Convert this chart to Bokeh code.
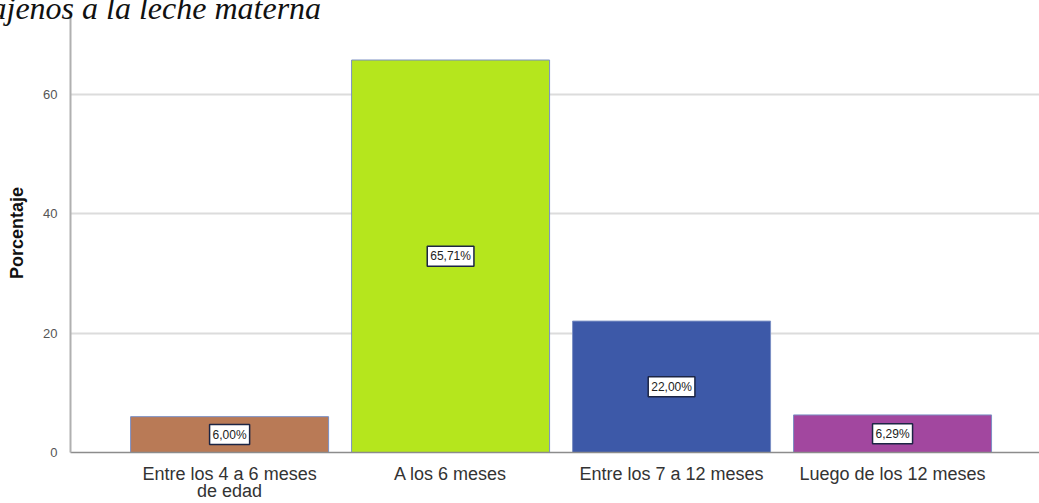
from bokeh.plotting import figure
from bokeh.models import ColumnDataSource, Label, FixedTicker, Range1d, Title
from bokeh.embed import file_html
from bokeh.resources import INLINE

categories = ["Entre los 4 a 6 meses\nde edad", "A los 6 meses",
              "Entre los 7 a 12 meses", "Luego de los 12 meses"]
values = [6.00, 65.71, 22.00, 6.29]
labels = ["6,00%", "65,71%", "22,00%", "6,29%"]
colors = ["#b97a56", "#b5e61d", "#3d59a8", "#a2479f"]
y_ticks = [0, 20, 40, 60]
title_text = "ajenos a la leche materna"

xs = list(range(len(categories)))
src = ColumnDataSource(dict(x=xs, top=values, color=colors))

p = figure(width=1039, height=503, output_backend="svg", toolbar_location=None,
           x_range=Range1d(-0.72, 3.665), y_range=Range1d(0, 73.5),
           min_border_left=70, min_border_right=0, min_border_top=13,
           min_border_bottom=50)
p.outline_line_color = None

p.vbar(x="x", top="top", width=0.896, bottom=0, fill_color="color",
       line_color="#7b8fc4", line_width=1, source=src)

for xi, v, lab in zip(xs, values, labels):
    p.add_layout(Label(x=xi, y=v / 2, text=lab, text_align="center",
                       text_baseline="middle", text_font_size="12px",
                       text_font="Liberation Sans", text_color="#222222",
                       background_fill_color="white", border_line_color="#1c2544",
                       border_line_width=1.5, padding=3))

# axes
p.xaxis.ticker = FixedTicker(ticks=xs)
p.xaxis.major_label_overrides = {i: c for i, c in enumerate(categories)}
p.xaxis.major_label_text_font = "Liberation Sans"
p.xaxis.major_label_text_font_size = "18px"
p.xaxis.major_label_text_line_height = 0.85
p.xaxis.major_label_text_color = "#333333"
p.xaxis.major_tick_line_color = None
p.xaxis.minor_tick_line_color = None
p.xaxis.axis_line_color = "#8c8c8c"
p.xaxis.axis_line_width = 1.5
p.xaxis.major_label_standoff = 5

p.yaxis.ticker = FixedTicker(ticks=y_ticks)
p.yaxis.major_label_text_font = "Liberation Sans"
p.yaxis.major_label_text_font_size = "13px"
p.yaxis.major_label_text_color = "#555555"
p.yaxis.major_tick_line_color = None
p.yaxis.minor_tick_line_color = None
p.yaxis.axis_line_color = "#b0b0b0"
p.yaxis.axis_line_width = 2
p.yaxis.major_label_standoff = 7
p.yaxis.axis_label = "Porcentaje"
p.yaxis.axis_label_text_font = "Liberation Sans"
p.yaxis.axis_label_text_font_style = "bold"
p.yaxis.axis_label_text_font_size = "18px"
p.yaxis.axis_label_text_color = "#111111"
p.yaxis.axis_label_standoff = 13

p.xgrid.grid_line_color = None
p.ygrid.grid_line_color = "#dcdcdc"
p.ygrid.grid_line_width = 2

title = Title(text=title_text, text_font="Liberation Serif",
              text_font_style="italic", text_font_size="32px",
              text_color="#111111", align="left", offset=-80, standoff=-29,
              vertical_align="top")
p.add_layout(title, "above")

open("out.html", "w").write(file_html(p, INLINE))
